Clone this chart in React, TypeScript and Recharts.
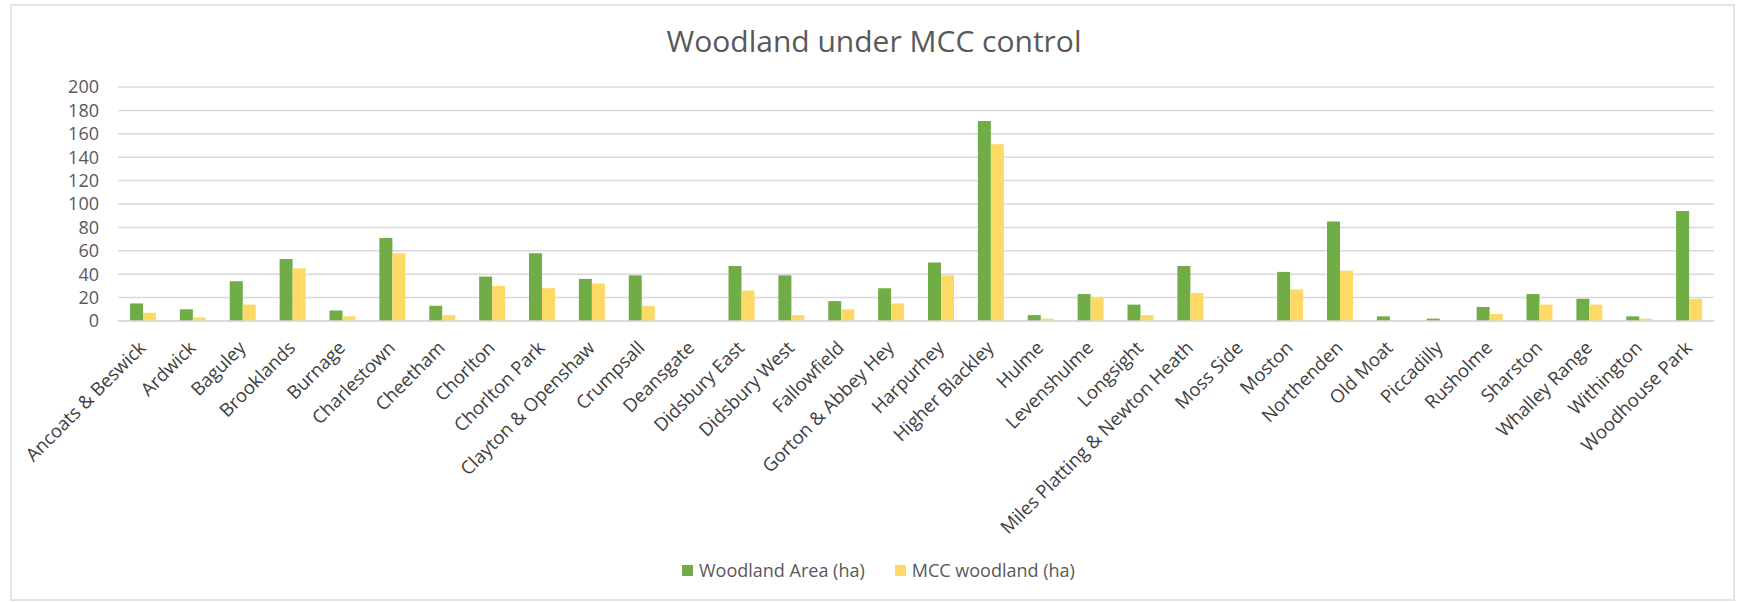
import React from 'react';
import { BarChart, Bar, XAxis, YAxis, CartesianGrid, Legend } from 'recharts';

// Manchester wards, in the order they appear along the axis
const wards: string[] = [
  'Ancoats & Beswick', 'Ardwick', 'Baguley', 'Brooklands', 'Burnage', 'Charlestown',
  'Cheetham', 'Chorlton', 'Chorlton Park', 'Clayton & Openshaw', 'Crumpsall', 'Deansgate',
  'Didsbury East', 'Didsbury West', 'Fallowfield', 'Gorton & Abbey Hey', 'Harpurhey',
  'Higher Blackley', 'Hulme', 'Levenshulme', 'Longsight', 'Miles Platting & Newton Heath',
  'Moss Side', 'Moston', 'Northenden', 'Old Moat', 'Piccadilly', 'Rusholme', 'Sharston',
  'Whalley Range', 'Withington', 'Woodhouse Park',
];

// Total woodland area per ward (hectares)
const woodlandArea: number[] = [
  15, 10, 34, 53, 9, 71, 13, 38, 58, 36, 39, 0, 47, 39, 17, 28, 50, 171, 5, 23, 14, 47, 0,
  42, 85, 4, 2, 12, 23, 19, 4, 94,
];

// Woodland managed by Manchester City Council (hectares)
const mccWoodland: number[] = [
  7, 3, 14, 45, 4, 58, 5, 30, 28, 32, 13, 0, 26, 5, 10, 15, 39, 151, 2, 20, 5, 24, 0,
  27, 43, 0.5, 0.3, 6, 14, 14, 2, 19,
];

const yTicks: number[] = [0, 20, 40, 60, 80, 100, 120, 140, 160, 180, 200];

const seriesKeys: string[] = ['area', 'mcc'];
const seriesNames: Record<string, string> = { area: 'Woodland Area (ha)', mcc: 'MCC woodland (ha)' };

const data = wards.map((ward, i) => ({
  ward,
  area: woodlandArea[i],
  mcc: mccWoodland[i],
}));

const FONT = '"Open Sans", sans-serif';
const TEXT = '#595959';
const LABEL = '#404040';
const GREEN = '#70AD47';
const GOLD = '#FFD966';

const WardTick = (props: any) => {
  const { x, y, payload } = props;
  return (
    <g transform={`translate(${x + 4},${y + 22}) rotate(-45)`}>
      <text x={0} y={0} textAnchor="end" fill={LABEL} fontSize={18.5} fontFamily={FONT}>
        {payload.value}
      </text>
    </g>
  );
};

const LegendContent = (props: any) => {
  const items = [...(props.payload || [])].sort(
    (a: any, b: any) => seriesKeys.indexOf(a.dataKey) - seriesKeys.indexOf(b.dataKey),
  );
  return (
    <div style={{ display: 'flex', alignItems: 'center', height: 24 }}>
      {items.map((entry: any, i: number) => (
        <div key={i} style={{ display: 'flex', alignItems: 'center', marginRight: 30 }}>
          <span
            style={{ display: 'inline-block', width: 11, height: 11, background: entry.color, marginRight: 6 }}
          />
          <span style={{ color: TEXT, fontSize: 18, fontFamily: FONT, whiteSpace: 'nowrap' }}>
            {entry.value}
          </span>
        </div>
      ))}
    </div>
  );
};

export default function App() {
  return (
    <div
      style={{
        position: 'absolute',
        left: 0,
        top: 0,
        width: 1737,
        height: 602,
        background: '#fff',
        fontFamily: FONT,
        overflow: 'hidden',
      }}
    >
      <div
        style={{
          position: 'absolute',
          left: 10,
          top: 4,
          width: 1725,
          height: 597,
          border: '2px solid #e3e3e3',
          boxSizing: 'border-box',
        }}
      />
      <div
        style={{
          position: 'absolute',
          left: 11,
          top: 26,
          width: 1726,
          textAlign: 'center',
          fontSize: 30,
          lineHeight: '30px',
          color: TEXT,
          whiteSpace: 'nowrap',
        }}
      >
        Woodland under MCC control
      </div>
      <div style={{ position: 'absolute', left: 0, top: 0 }}>
        <BarChart
          width={1737}
          height={602}
          data={data}
          margin={{ top: 87, right: 23, bottom: 20, left: 8 }}
          barGap={0}
          barSize={13}
        >
          <CartesianGrid vertical={false} stroke="#d9d9d9" strokeWidth={1.5} />
          <XAxis
            dataKey="ward"
            interval={0}
            height={237}
            tickLine={false}
            tickMargin={0}
            axisLine={{ stroke: '#d9d9d9', strokeWidth: 1.5 }}
            tick={<WardTick />}
          />
          <YAxis
            width={110}
            domain={[0, 200]}
            ticks={yTicks}
            interval={0}
            axisLine={false}
            tickLine={false}
            tickMargin={13}
            tick={{ fill: TEXT, fontSize: 18, fontFamily: FONT }}
          />
          <Legend
            verticalAlign="bottom"
            content={<LegendContent />}
            wrapperStyle={{ left: 682, width: 460 }}
          />
          <Bar dataKey="area" name={seriesNames.area} fill={GREEN} isAnimationActive={false} />
          <Bar dataKey="mcc" name={seriesNames.mcc} fill={GOLD} isAnimationActive={false} />
        </BarChart>
      </div>
    </div>
  );
}
